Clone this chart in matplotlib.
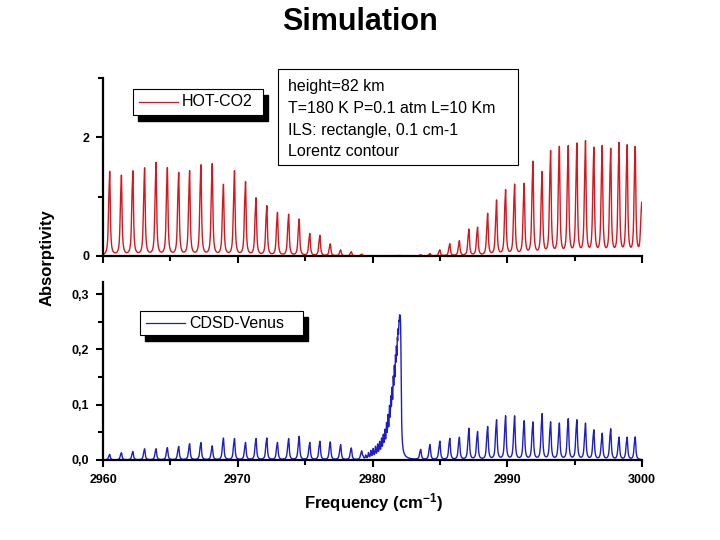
import numpy as np
import matplotlib.pyplot as plt
from matplotlib.patches import Rectangle
from matplotlib.lines import Line2D
from matplotlib.ticker import MultipleLocator, FuncFormatter

plt.rcParams['font.family'] = ['Liberation Sans', 'DejaVu Sans']
plt.rcParams['mathtext.fontset'] = 'custom'
plt.rcParams['mathtext.bf'] = 'Liberation Sans:bold'
plt.rcParams['mathtext.default'] = 'bf'

# line centres (cm-1), P branch / Q branch / R branch
p_pos = [2960.50, 2961.37, 2962.22, 2963.09, 2963.94, 2964.78, 2965.62, 2966.43,
         2967.27, 2968.11, 2968.94, 2969.76, 2970.58, 2971.36, 2972.16, 2972.95,
         2973.78, 2974.56, 2975.35, 2976.10, 2976.87, 2977.64, 2978.43, 2979.20]
q_pos = [2979.30, 2979.50, 2979.70, 2979.88, 2980.05, 2980.22, 2980.38, 2980.53,
         2980.67, 2980.80, 2980.92, 2981.04, 2981.15, 2981.26, 2981.36, 2981.45,
         2981.54, 2981.62, 2981.70, 2981.77, 2981.84, 2981.90, 2981.96, 2982.01,
         2982.06, 2982.10]
r_pos = [2983.58, 2984.27, 2985.00, 2985.74, 2986.45, 2987.16, 2987.80, 2988.55,
         2989.21, 2989.88, 2990.55, 2991.26, 2991.91, 2992.59, 2993.22, 2993.87,
         2994.53, 2995.17, 2995.81, 2996.43, 2997.05, 2997.68, 2998.30, 2998.90,
         2999.50, 2999.98]

# HOT-CO2 peak absorptivity
hot_p = [1.41, 1.34, 1.41, 1.46, 1.55, 1.46, 1.38, 1.41, 1.51, 1.53, 1.18, 1.41,
         1.23, 0.96, 0.83, 0.72, 0.69, 0.61, 0.37, 0.34, 0.20, 0.10, 0.07, 0.03]
hot_q = [0.004, 0.004, 0.003, 0.003, 0.003, 0.003, 0.003, 0.003, 0.003, 0.003,
         0.003, 0.003, 0.003, 0.003, 0.003, 0.003, 0.003, 0.003, 0.003, 0.003,
         0.003, 0.003, 0.003, 0.003, 0.003, 0.003]
hot_r = [0.02, 0.04, 0.10, 0.20, 0.25, 0.44, 0.47, 0.70, 0.92, 1.09, 1.18, 1.19,
         1.56, 1.38, 1.73, 1.80, 1.81, 1.85, 1.89, 1.78, 1.81, 1.76, 1.86, 1.82,
         1.80, 0.87]

# CDSD-Venus peak absorptivity
cdsd_p = [0.010, 0.013, 0.015, 0.020, 0.020, 0.022, 0.024, 0.029, 0.031, 0.025,
          0.039, 0.038, 0.031, 0.038, 0.039, 0.031, 0.038, 0.042, 0.031, 0.033,
          0.032, 0.027, 0.021, 0.015]
cdsd_q = [0.004, 0.007, 0.011, 0.014, 0.017, 0.020, 0.023, 0.026, 0.030, 0.034,
          0.040, 0.048, 0.058, 0.068, 0.077, 0.084, 0.094, 0.104, 0.110, 0.115,
          0.115, 0.121, 0.118, 0.121, 0.121, 0.121]
cdsd_r = [0.018, 0.027, 0.033, 0.038, 0.040, 0.056, 0.050, 0.059, 0.071, 0.078,
          0.078, 0.069, 0.067, 0.082, 0.067, 0.065, 0.073, 0.071, 0.065, 0.053,
          0.047, 0.055, 0.040, 0.040, 0.041, 0.0]

gamma = 0.05    # Lorentz half width of P/R lines, cm-1
gamma_q = 0.04  # Q-branch lines
nu = np.arange(2960.0, 3000.0001, 0.004)


def lorentz(centres, heights, g=gamma, companion=False):
    c = np.asarray(centres)[:, None]
    h = np.asarray(heights)[:, None]
    shape = g**2 / ((nu[None, :] - c)**2 + g**2)
    if companion:
        # weak satellite just below each strong line (gives the thick feet)
        d = 0.07
        sat = g**2 / ((nu[None, :] - c + d)**2 + g**2)
        shape = (shape + 0.5 * sat) / (1 + 0.5 * g**2 / (d**2 + g**2))
    return (h * shape).sum(axis=0)


hot = lorentz(p_pos + r_pos, hot_p + hot_r, companion=True) + lorentz(q_pos, hot_q, gamma_q)
cdsd = lorentz(p_pos + r_pos, cdsd_p + cdsd_r, companion=True) + lorentz(q_pos, cdsd_q, gamma_q)

red = '#d8161e'
blue = '#1e1ec4'

W, H = 720, 540
fig = plt.figure(figsize=(7.2, 5.4), dpi=100)


def fx(x):
    return x / W


def fy(y):
    return 1 - y / H


ax1 = fig.add_axes([fx(103), fy(256), fx(642) - fx(103), fy(78) - fy(256)])
ax2 = fig.add_axes([fx(103), fy(460), fx(642) - fx(103), fy(282) - fy(460)])

ax1.plot(nu, hot, color=red, lw=1.0)
ax2.plot(nu, cdsd, color=blue, lw=1.0)

ax1.set_ylim(0, 3)
ax1.yaxis.set_major_locator(MultipleLocator(2))
ax1.yaxis.set_minor_locator(MultipleLocator(1))
ax1.tick_params(labelbottom=False)

ax2.set_ylim(0, 0.322)
ax2.yaxis.set_major_locator(MultipleLocator(0.1))
ax2.yaxis.set_minor_locator(MultipleLocator(0.05))
ax2.yaxis.set_major_formatter(FuncFormatter(lambda v, p: f"{v:.1f}".replace('.', ',')))

for ax in (ax1, ax2):
    ax.set_xlim(2960, 3000)
    ax.xaxis.set_major_locator(MultipleLocator(10))
    ax.xaxis.set_minor_locator(MultipleLocator(5))
    for s in ('top', 'right'):
        ax.spines[s].set_visible(False)
    for s in ('left', 'bottom'):
        ax.spines[s].set_linewidth(1.6)
    ax.tick_params(which='both', direction='out', width=1.5)
    ax.tick_params(which='major', length=5, pad=5, labelsize=9)
    ax.tick_params(which='minor', length=3.5)
    for lab in ax.get_xticklabels() + ax.get_yticklabels():
        lab.set_fontweight('bold')
    ax.patch.set_alpha(0)


# legend boxes with black drop shadow
def legend_box(x0, y0, x1, y1, color, label):
    fig.patches.append(Rectangle((fx(x0 + 5), fy(y1 + 6)), fx(x1 - x0), fy(y0) - fy(y1),
                                 transform=fig.transFigure, facecolor='black',
                                 edgecolor='black', zorder=5))
    fig.patches.append(Rectangle((fx(x0), fy(y1)), fx(x1 - x0), fy(y0) - fy(y1),
                                 transform=fig.transFigure, facecolor='white',
                                 edgecolor='black', lw=0.8, zorder=6))
    ym = (y0 + y1) / 2
    fig.lines.append(Line2D([fx(x0 + 6), fx(x0 + 45)], [fy(ym), fy(ym)],
                            transform=fig.transFigure, color=color, lw=0.9, zorder=7))
    fig.text(fx(x0 + 49), fy(ym), label, fontsize=11.5, va='center', ha='left', zorder=8)


legend_box(133, 89, 263, 115, red, 'HOT-CO2')
legend_box(140, 311, 303, 335, blue, 'CDSD-Venus')

# parameter box
fig.patches.append(Rectangle((fx(278), fy(165)), fx(518 - 278), fy(69) - fy(165),
                             transform=fig.transFigure, facecolor='white',
                             edgecolor='black', lw=0.8, zorder=5))
info = ['height=82 km', 'T=180 K P=0.1 atm L=10 Km', 'ILS: rectangle, 0.1 cm-1', 'Lorentz contour']
for i, line in enumerate(info):
    fig.text(fx(288), fy(87 + 21.5 * i), line, fontsize=11.5, va='center', ha='left', zorder=6)

fig.text(0.5, fy(22), 'Simulation', fontsize=22, fontweight='bold', ha='center', va='center')
fig.text(fx(47), fy(258), 'Absorptivity', fontsize=12, fontweight='bold',
         rotation=90, ha='center', va='center')
fig.text(fx(373), fy(503), 'Frequency (cm$^{-1}$)', fontsize=12, fontweight='bold',
         ha='center', va='center')

fig.savefig('out.png', dpi=100)
